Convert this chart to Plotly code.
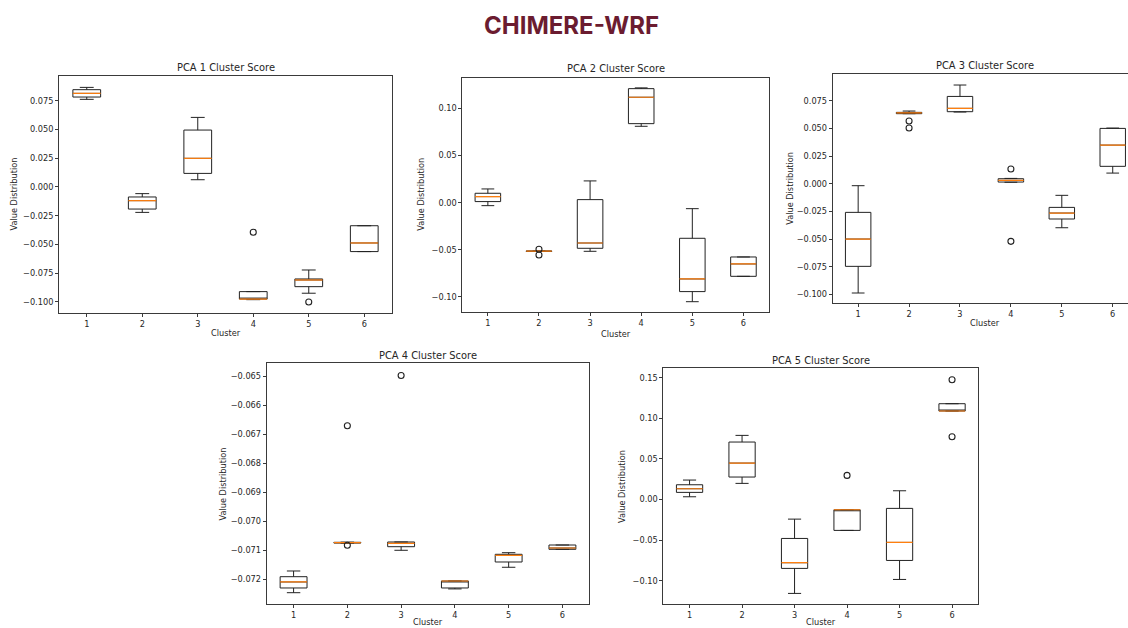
import plotly.graph_objects as go

W, H = 1128, 628

clusters = [1, 2, 3, 4, 5, 6]

# ---------------- data ----------------
pca1_q1 = [0.0782, -0.0192, 0.0118, -0.0975, -0.0867, -0.0562]
pca1_med = [0.0814, -0.0119, 0.0249, -0.0975, -0.0809, -0.0487]
pca1_q3 = [0.0846, -0.0087, 0.0495, -0.0910, -0.0800, -0.0337]
pca1_lo = [0.0762, -0.0221, 0.0063, -0.0980, -0.0924, -0.0562]
pca1_hi = [0.0866, -0.0058, 0.0605, -0.0910, -0.0722, -0.0337]
pca1_out_x = [4, 5]
pca1_out_y = [-0.0394, -0.1000]

pca2_q1 = [0.0011, -0.0518, -0.0484, 0.0837, -0.0943, -0.0781]
pca2_med = [0.0064, -0.0515, -0.0428, 0.1117, -0.0809, -0.0650]
pca2_q3 = [0.0099, -0.0512, 0.0032, 0.1208, -0.0378, -0.0576]
pca2_lo = [-0.0032, -0.0518, -0.0516, 0.0809, -0.1050, -0.0781]
pca2_hi = [0.0145, -0.0512, 0.0230, 0.1216, -0.0064, -0.0576]
pca2_out_x = [2, 2]
pca2_out_y = [-0.0494, -0.0555]

pca3_q1 = [-0.0747, 0.0633, 0.0651, 0.0015, -0.0319, 0.0157]
pca3_med = [-0.0500, 0.0640, 0.0681, 0.0030, -0.0265, 0.0349]
pca3_q3 = [-0.0259, 0.0645, 0.0789, 0.0045, -0.0214, 0.0500]
pca3_lo = [-0.0988, 0.0633, 0.0648, 0.0013, -0.0398, 0.0096]
pca3_hi = [-0.0018, 0.0657, 0.0892, 0.0048, -0.0105, 0.0503]
pca3_out_x = [2, 2, 4, 4]
pca3_out_y = [0.05665, 0.0503, 0.01327, -0.0521]

pca4_q1 = [-0.072298, -0.070750, -0.070876, -0.072298, -0.071403, -0.070966]
pca4_med = [-0.072091, -0.070738, -0.070759, -0.072057, -0.071172, -0.070921]
pca4_q3 = [-0.071909, -0.070725, -0.070714, -0.072057, -0.071138, -0.070818]
pca4_lo = [-0.072460, -0.070755, -0.071000, -0.072330, -0.071585, -0.070966]
pca4_hi = [-0.071713, -0.070720, -0.070714, -0.072057, -0.071083, -0.070818]
pca4_out_x = [2, 2, 3]
pca4_out_y = [-0.06671, -0.070828, -0.06498]

pca5_q1 = [0.0088, 0.0277, -0.0848, -0.0380, -0.0750, 0.1090]
pca5_med = [0.0133, 0.0449, -0.0778, -0.0126, -0.0528, 0.1090]
pca5_q3 = [0.0182, 0.0708, -0.0479, -0.0126, -0.0109, 0.1180]
pca5_lo = [0.0034, 0.0199, -0.1156, -0.0380, -0.0984, 0.1090]
pca5_hi = [0.0240, 0.0790, -0.0241, -0.0126, 0.0108, 0.1180]
pca5_out_x = [4, 6, 6]
pca5_out_y = [0.0297, 0.1475, 0.0773]

panels = [
    dict(name="PCA 1 Cluster Score", q1=pca1_q1, med=pca1_med, q3=pca1_q3, lo=pca1_lo, hi=pca1_hi,
         ox=pca1_out_x, oy=pca1_out_y),
    dict(name="PCA 2 Cluster Score", q1=pca2_q1, med=pca2_med, q3=pca2_q3, lo=pca2_lo, hi=pca2_hi,
         ox=pca2_out_x, oy=pca2_out_y),
    dict(name="PCA 3 Cluster Score", q1=pca3_q1, med=pca3_med, q3=pca3_q3, lo=pca3_lo, hi=pca3_hi,
         ox=pca3_out_x, oy=pca3_out_y),
    dict(name="PCA 4 Cluster Score", q1=pca4_q1, med=pca4_med, q3=pca4_q3, lo=pca4_lo, hi=pca4_hi,
         ox=pca4_out_x, oy=pca4_out_y),
    dict(name="PCA 5 Cluster Score", q1=pca5_q1, med=pca5_med, q3=pca5_q3, lo=pca5_lo, hi=pca5_hi,
         ox=pca5_out_x, oy=pca5_out_y),
]

# ---------------- layout geometry (pixels) ----------------
# left, right, top, bottom of each plot area
boxes_px = [
    (59, 392, 76, 313),
    (462.3, 769, 77.7, 311.7),
    (832.7, 1128, 74.3, 303.3),
    (266.7, 589.3, 363.3, 604.3),
    (663.3, 978.3, 368.3, 604.3),
]
yranges = [
    [-0.1096, 0.0965],
    [-0.1156, 0.1324],
    [-0.1081, 0.0989],
    [-0.07286, -0.06456],
    [-0.129, 0.1616],
]
xranges = [[0.5, 6.5], [0.5, 6.5], [0.5, 6.30], [0.5, 6.5], [0.5, 6.5]]
dticks = [0.025, 0.05, 0.025, 0.001, 0.05]
fmts = [".3f", ".2f", ".3f", ".3f", ".2f"]
title_y = [67.7, 68.3, 66, 355.7, 360]
xlabel_y = [333, 334.3, 322.7, 621.5, 621.5]
ylabel_x = [14, 421, 790, 222.7, 622.7]

BOX_W = 0.5
FONT = "DejaVu Sans"
TXT = "#262626"
FRAME = "#3a3a3a"

fig = go.Figure()
annotations = []
layout = {}

for i, p in enumerate(panels):
    n = i + 1
    xa = "x" if n == 1 else f"x{n}"
    ya = "y" if n == 1 else f"y{n}"
    fig.add_trace(go.Box(
        x=clusters, q1=p["q1"], median=p["med"], q3=p["q3"],
        lowerfence=p["lo"], upperfence=p["hi"],
        width=BOX_W, whiskerwidth=0.5, boxpoints=False,
        line=dict(color="#222222", width=1), fillcolor="rgba(0,0,0,0)",
        xaxis=xa, yaxis=ya, showlegend=False, hoverinfo="skip",
    ))
    mx, my = [], []
    for c, m in zip(clusters, p["med"]):
        mx += [c - BOX_W / 2, c + BOX_W / 2, None]
        my += [m, m, None]
    fig.add_trace(go.Scatter(
        x=mx, y=my, mode="lines", line=dict(color="#ff7f0e", width=1.2),
        xaxis=xa, yaxis=ya, showlegend=False, hoverinfo="skip",
    ))
    fig.add_trace(go.Scatter(
        x=p["ox"], y=p["oy"], mode="markers",
        marker=dict(symbol="circle-open", size=6, color="#222222", line=dict(width=1.1)),
        xaxis=xa, yaxis=ya, showlegend=False, hoverinfo="skip",
    ))

    l, r, t, b = boxes_px[i]
    key_x = "xaxis" if n == 1 else f"xaxis{n}"
    key_y = "yaxis" if n == 1 else f"yaxis{n}"
    layout[key_x] = dict(
        domain=[l / W, r / W], range=xranges[i], anchor=ya,
        tickmode="array", tickvals=clusters, ticktext=[str(c) for c in clusters],
        showline=True, linecolor=FRAME, linewidth=1, mirror=True,
        ticks="outside", ticklen=3, tickwidth=0.8, tickcolor=FRAME,
        showgrid=False, zeroline=False,
        tickfont=dict(family=FONT, size=8.2, color=TXT),
    )
    layout[key_y] = dict(
        domain=[1 - b / H, 1 - t / H], range=yranges[i], anchor=xa,
        dtick=dticks[i], tick0=0, tickformat=fmts[i],
        showline=True, linecolor=FRAME, linewidth=1, mirror=(n != 3),
        ticks="outside", ticklen=3, tickwidth=0.8, tickcolor=FRAME,
        showgrid=False, zeroline=False,
        tickfont=dict(family=FONT, size=8.2, color=TXT),
    )
    cx = (l + r) / 2 if n != 3 else 985
    annotations.append(dict(
        text=p["name"], x=cx / W, y=1 - title_y[i] / H, xref="paper", yref="paper",
        xanchor="center", yanchor="middle", showarrow=False,
        font=dict(family=FONT, size=9.9, color=TXT),
    ))
    annotations.append(dict(
        text="Cluster", x=cx / W, y=1 - xlabel_y[i] / H, xref="paper", yref="paper",
        xanchor="center", yanchor="middle", showarrow=False,
        font=dict(family=FONT, size=8.2, color=TXT),
    ))
    annotations.append(dict(
        text="Value Distribution", x=ylabel_x[i] / W, y=1 - ((t + b) / 2) / H,
        xref="paper", yref="paper", xanchor="center", yanchor="middle",
        textangle=-90, showarrow=False,
        font=dict(family=FONT, size=8.2, color=TXT),
    ))

annotations.append(dict(
    text="<b>CHIMERE-WRF</b>", x=571 / W, y=1 - 25 / H, xref="paper", yref="paper",
    xanchor="center", yanchor="middle", showarrow=False,
    font=dict(family="Inter", size=24, color="#6b1c30", weight=800),
))

fig.update_layout(
    width=W, height=H, margin=dict(l=0, r=0, t=0, b=0),
    paper_bgcolor="white", plot_bgcolor="white",
    annotations=annotations, boxmode="overlay", showlegend=False,
    **layout,
)

fig.write_html("out.html", config={"displayModeBar": False})
